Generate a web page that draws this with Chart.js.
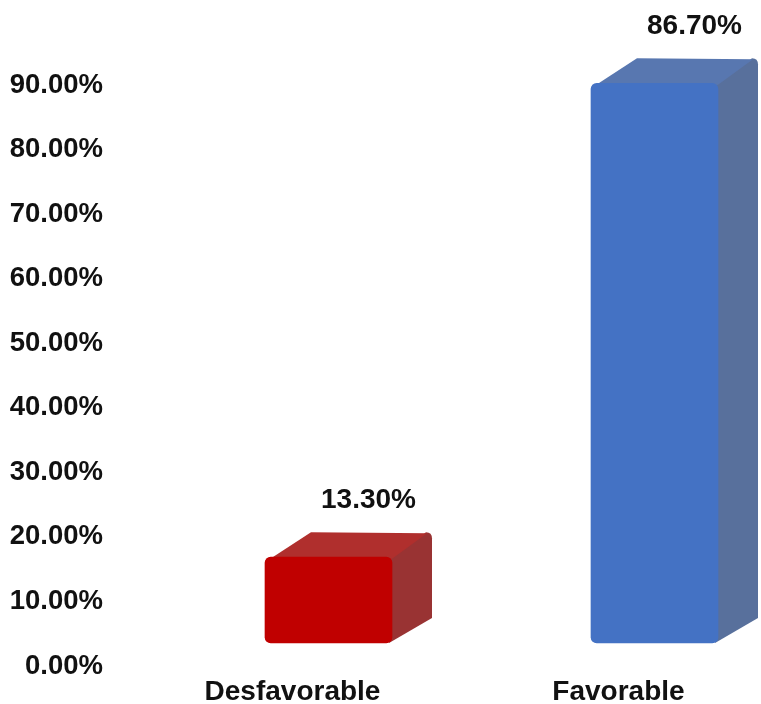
<!DOCTYPE html>
<html lang="es">
<head>
    <meta charset="UTF-8">
    <title>Desfavorable vs Favorable</title>
    <style>
        body {
            margin: 0;
            padding: 0;
            background: #ffffff;
        }

        .chart-box {
            width: 761px;
            height: 704px;
        }
    </style>
</head>
<body>

<div class="chart-box">
    <canvas id="bars"></canvas>
</div>

<script src="https://cdn.jsdelivr.net/npm/chart.js"></script>

<script>
    const categories = ['Desfavorable', 'Favorable'];
    const percentValues = [13.3, 86.7];
    const yTicks = [0, 10, 20, 30, 40, 50, 60, 70, 80, 90];

    const frontColors = ['#c00000', '#4472c4'];
    const topColors = ['#b02f2d', '#5877b0'];
    const sideColors = ['#993333', '#58709c'];

    // depth of the fake 3d box
    const DX = 40, DY = 25;

    const depthPlugin = {
        id: 'depth3d',
        beforeDatasetsDraw(chart) {
            const ctx = chart.ctx;
            chart.getDatasetMeta(0).data.forEach((bar, i) => {
                const p = bar.getProps(['x', 'y', 'base', 'width'], true);
                const x0 = p.x - p.width / 2, x1 = p.x + p.width / 2;
                ctx.save();
                // side face first, top face drawn over it
                ctx.fillStyle = sideColors[i];
                ctx.beginPath();
                ctx.moveTo(x1 - 3, p.y + 2);
                ctx.lineTo(x1 + DX - 6, p.y - DY);
                ctx.quadraticCurveTo(x1 + DX, p.y - DY, x1 + DX, p.y - DY + 6);
                ctx.lineTo(x1 + DX, p.base - DY);
                ctx.lineTo(x1 - 3, p.base);
                ctx.closePath();
                ctx.fill();
                // top face
                ctx.fillStyle = topColors[i];
                ctx.beginPath();
                ctx.moveTo(x0 + 3, p.y + 3);
                ctx.lineTo(x1 - 2, p.y + 3);
                ctx.lineTo(x1 + DX - 5, p.y - DY + 1);
                ctx.lineTo(x0 + DX + 6, p.y - DY);
                ctx.closePath();
                ctx.fill();
                ctx.restore();
            });
        },
        afterDatasetsDraw(chart) {
            const ctx = chart.ctx;
            const ds = chart.data.datasets[0];
            chart.getDatasetMeta(0).data.forEach((bar, i) => {
                const p = bar.getProps(['x', 'y'], true);
                ctx.save();
                ctx.font = 'bold 28px "Liberation Sans", Arial, sans-serif';
                ctx.fillStyle = '#111111';
                ctx.textAlign = 'center';
                ctx.textBaseline = 'middle';
                ctx.fillText(ds.data[i].toFixed(2) + '%', p.x + DX, p.y - DY - 32);
                ctx.restore();
            });
        }
    };

    const ctx = document.getElementById('bars').getContext('2d');
    const chart = new Chart(ctx, {
        type: 'bar',
        data: {
            labels: categories,
            datasets: [{
                data: percentValues,
                backgroundColor: frontColors,
                borderColor: frontColors,
                borderWidth: 0,
                borderRadius: 6,
                borderSkipped: false,
                barThickness: 127,
                clip: false
            }]
        },
        options: {
            responsive: true,
            maintainAspectRatio: false,
            animation: false,
            layout: {
                padding: { top: 62, right: 106.5, left: 0, bottom: 0 }
            },
            plugins: {
                legend: { display: false },
                tooltip: { enabled: false }
            },
            scales: {
                x: {
                    offset: false,
                    grid: { display: false, drawTicks: false },
                    border: { display: false },
                    ticks: {
                        color: '#111111',
                        font: { family: '"Liberation Sans", Arial, sans-serif', size: 28, weight: 'bold' },
                        padding: 32,
                        labelOffset: -36,
                        maxRotation: 0
                    },
                    afterFit: s => { s.height = 61; }
                },
                y: {
                    min: 0,
                    max: 90,
                    grid: { display: false, drawTicks: false },
                    border: { display: false },
                    afterBuildTicks: s => { s.ticks = yTicks.map(v => ({ value: v })); },
                    afterFit: s => {
                        s.width = 328.5;
                        s.paddingTop = 14;
                        s.paddingBottom = 14;
                    },
                    ticks: {
                        color: '#111111',
                        font: { family: '"Liberation Sans", Arial, sans-serif', size: 27.5, weight: 'bold' },
                        padding: 225.5,
                        labelOffset: 23,
                        callback: v => v.toFixed(2) + '%'
                    }
                }
            }
        },
        plugins: [depthPlugin]
    });
</script>

</body>
</html>
